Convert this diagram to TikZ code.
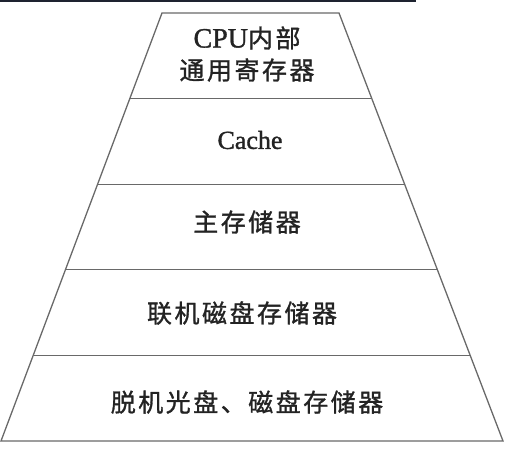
\documentclass[tikz,border=0pt]{standalone}
\usepackage{fontspec}
\setmainfont{Liberation Serif}[FakeBold=1.2]
\newfontfamily\cjk[LetterSpace=10,FakeBold=1.2]{Noto Sans CJK SC}
\usetikzlibrary{calc}
\definecolor{edge}{RGB}{105,105,105}
\definecolor{ink}{RGB}{35,35,35}
\definecolor{rule}{RGB}{30,35,48}
\begin{document}
\begin{tikzpicture}[x=1pt,y=-1pt,
  layer/.style={draw=edge,line width=1.3pt,line join=miter},
  divider/.style={draw=edge,line width=1.3pt},
  label/.style={text=ink,font=\fontsize{25}{31}\selectfont,align=center,inner sep=0pt}]
  \useasboundingbox (0,0) rectangle (530,450);
  % rule along the top edge of the page
  \draw[rule,line width=2pt] (0,1) -- (416,1);
  % outline of the pyramid
  \coordinate (tl) at (162,13);
  \coordinate (tr) at (339,13);
  \coordinate (br) at (503,441);
  \coordinate (bl) at (1,441);
  \draw[layer] (tl) -- (tr) -- (br) -- (bl) -- cycle;
  % level dividers, evenly spaced
  \foreach \k/\f in {1/0.2,2/0.4,3/0.6,4/0.8}{
    \coordinate (l\k) at ($(tl)!\f!(bl)$);
    \coordinate (r\k) at ($(tr)!\f!(br)$);
    \draw[divider] (l\k) -- (r\k);
  }
  % level labels
  \node[label] (cpu) at (247,38) {{\fontsize{28}{31}\selectfont CPU}{\cjk 内部}};
  \node[label] (reg) at (247,70) {\cjk 通用寄存器};
  \node[label] (cache) at (250,140) {{\fontsize{26}{31}\selectfont Cache}};
  \node[label] (main) at (247,222) {\cjk 主存储器};
  \node[label] (disk) at (242,313) {\cjk 联机磁盘存储器};
  \node[label] (off) at (247,402) {\cjk 脱机光盘、磁盘存储器};
\end{tikzpicture}
\end{document}
